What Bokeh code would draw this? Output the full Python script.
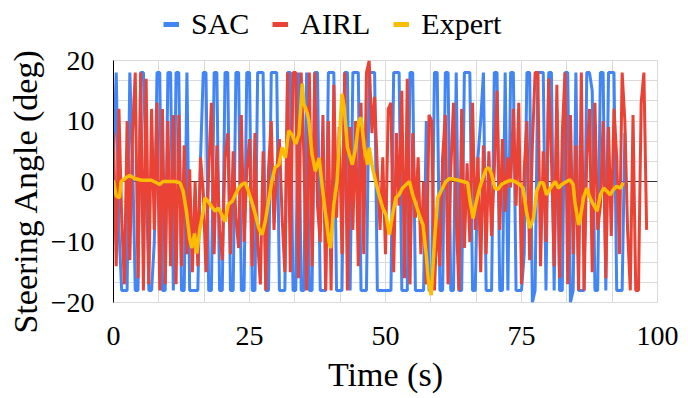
from bokeh.plotting import figure
from bokeh.layouts import column
from bokeh.models import Range1d, FixedTicker, Legend, LegendItem, Span, Title
from bokeh.embed import file_html
from bokeh.resources import INLINE

# ---- data ----
step = 0.5  # sampling interval (s) of SAC and AIRL series

sac_y = [
    4, 18, -8, -18, -18, -18, 18, 4, -18, -18,
    18, 18, 2, -18, -18, -10, 18, 18, -18, -18,
    18, 18, -18, 18, 18, -18, -18, 18, -18, -18,
    -18, -18, 4, 18, 18, -18, -18, 18, 18, -18,
    -18, 18, 18, -18, -18, 18, 18, -18, -18, 18,
    18, -18, -18, 18, 18, 18, -18, -18, 18, 18,
    18, -18, -18, -18, 18, 18, -18, -18, 18, -18,
    -18, 18, -18, -18, 18, 18, -18, -18, -18, 18,
    18, 18, -18, -18, -18, 18, 18, -18, 18, 18,
    18, -18, -18, -18, 18, 18, 18, -18, -18, -18,
    -18, -18, -18, 18, 18, 18, -18, -18, -18, 18,
    18, -18, -18, -18, -18, 10, -18, -18, 18, 18,
    -18, -18, 18, 18, -18, -18, 18, -18, -18, 18,
    18, 18, -18, -18, 4, 10, 18, -18, -18, -18,
    18, 18, -18, -18, 18, -18, 18, 18, -18, -18,
    -18, -12, 18, 18, -20, -18, 18, 18, 18, -18,
    18, 18, -18, 12, -18, -18, 18, 18, -20, -18,
    18, -18, -18, -18, 18, 18, 15, -18, -18, 18,
    18, -18, 18, 18, 18, -18, -18, -18, 8,
]

airl_y = [
    8, -14, 12, -6, -17, 10, -13, 8, 18, -16,
    18, -18, 17, -17, 12, -8, 13, -18, 12, -17,
    10, -14, 11, -17, 11, -14, 6, -12, 2, -15,
    0, -14, 4, -2, -15, 2, 13, -12, 6, -8,
    -13, 4, 8, -12, 5, -6, -11, 11, -10, 2,
    7, -14, 8, -10, -17, 5, -18, 2, 10, -8,
    2, 7, -6, -15, 18, -15, 18, 18, -16, 18,
    4, -18, 18, -14, 18, -4, -10, 11, -18, 10,
    -18, 16, -6, 9, -12, 18, -18, 9, -8, 10,
    -14, 13, -12, 18, 20, 8, 14, 2, -8, 4,
    -12, 12, 13, -15, 8, -4, 15, -16, 17, -17,
    8, -6, 4, -12, 0, -17, 11, 10, -18, -6,
    -14, 4, 11, -17, 2, 13, -6, -18, 12, -11,
    3, -10, 13, -8, 4, -15, 6, -12, 5, -9,
    2, 15, -8, 7, -5, 4, -1, 12, -4, 13,
    -17, 2, 10, -13, 6, 18, 18, -14, 5, -10,
    17, 4, -14, 16, -16, 8, 18, -17, 11, -12,
    6, -18, 18, -18, 4, 12, -15, 13, -8, -4,
    10, -16, 9, -9, 12, 4, -12, 18, 10, -8,
    -18, 11, -18, -18, 13, 18, -8,
]

expert_t = [
    0, 0.5, 1.1, 1.4, 2.4, 3.0, 3.9, 5.1, 7.0, 7.9, 8.5, 9.1, 11.3, 12.2, 12.8,
    13.4, 14.0, 14.4, 14.9, 15.3, 15.9, 16.5, 16.8, 17.4, 18.0, 18.7, 19.3,
    19.9, 20.5, 21.1, 21.8, 22.4, 23.0, 23.6, 24.2, 24.8, 25.4, 26.1, 26.7,
    27.3, 27.9, 28.5, 29.1, 29.7, 30.4, 31.0, 31.6, 32.2, 32.8, 33.5, 34.1,
    34.7, 35.0, 35.6, 35.9, 36.5, 37.1, 37.8, 38.4, 39.0, 39.6, 39.9, 40.5,
    41.1, 41.5, 42.0, 42.4, 43.0, 43.9, 44.5, 45.1, 45.5, 46.1, 46.7, 47.0,
    47.6, 48.2, 48.8, 49.5, 50.1, 50.7, 51.3, 51.9, 52.5, 53.1, 53.8, 54.4,
    55.0, 55.6, 56.2, 56.9, 57.5, 57.9, 58.4, 59.0, 59.6, 60.2, 61.1, 61.8,
    63.0, 64.2, 65.1, 65.5, 66.1, 66.7, 67.3, 67.9, 68.5, 69.0, 69.5, 70.1,
    70.7, 71.3, 71.9, 72.9, 73.8, 74.7, 75.3, 75.9, 76.5, 77.2, 77.8, 78.4,
    79.0, 79.6, 80.3, 81.2, 81.8, 82.4, 83.3, 83.9, 84.5, 84.8, 85.5, 85.8,
    86.4, 87.0, 87.6, 88.2, 88.9, 89.5, 90.1, 90.7, 91.3, 91.9, 92.5, 93.2,
    93.7,
]
expert_y = [
    0.2, -2.4, -2.7, 0, 0.7, 1.0, 0.5, 0.2, 0.2, -0.2, -0.5, 0, 0, -0.2, -1.6,
    -4.9, -9.4, -11, -8.6, -11.9, -7.7, -4.9, -2.7, -3.3, -4.1, -4.9, -4.4,
    -5.5, -6.6, -3.8, -3.3, -2.2, -1.1, -0.5, -0.2, -1.6, -3.3, -5.5, -7.7,
    -8.8, -6.6, -3.3, 0, 2.3, 2.8, 5.6, 3.9, 8.4, 7.8, 6.2, 7.8,
    16.2, 12.8, 11.4, 10, 4.5, 1.7, 3.9, -1.1, -5.5, -9.9, -11, -3.8,
    0, 6.7, 14.5, 12.3, 5.6, 2.8, 5.6, 10, 10.6, 5.6, 2.8, 5.6,
    2.3, 0, -2.2, -4.4, -5.5, -8.8, -5.5, -2.7, -2.2, -1.1, -0.5, 0,
    -2.2, -3.8, -5.5, -7.2, -12.2, -16.6, -18.8, -9.9, -2.7, -1.6, 0, 0.5,
    0.3, 0, -0.2, -3.0, -6.1, -3.3, -1.1, 0.6, 2.0, 2.3, 1.2, -1.1,
    -1.3, -0.5, -0.2, 0.2, 0, -0.5, -1.1, -4.9, -7.7, -6.1, -1.6, -0.2,
    -0.2, -2.2, -1.1, 0, -1.1, -0.5, 0, 0.3, -0.5, -3.3, -7.2, -6.1,
    -2.7, -1.1, -2.7, -3.8, -4.9, -2.2, -1.1, -1.6, -2.2, -1.3, -0.8, -1.1,
    -0.2,
]

series_names = ["SAC", "AIRL", "Expert"]
x_tick_labels = [0, 25, 50, 75, 100]
y_tick_labels = [-20, -10, 0, 10, 20]

sac_t = [i * step for i in range(len(sac_y))]
airl_t = [i * step for i in range(len(airl_y))]

# ---- style ----
SERIF = "Liberation Serif"
C_SAC, C_AIRL, C_EXP = "#4285F4", "#EA4335", "#FBBC04"
W = 680
LEG_H = 46
MAIN_H = 350

# ---- legend strip on top ----
lf = figure(width=W, height=LEG_H, output_backend="svg", toolbar_location=None,
            x_range=Range1d(0, 1), y_range=Range1d(0, 1),
            x_axis_location=None, y_axis_location=None, min_border=0)
lf.grid.visible = False
lf.outline_line_color = None
lg_sac = lf.line([5, 6], [5, 5], line_color=C_SAC, line_width=5)
lg_airl = lf.line([5, 6], [5, 5], line_color=C_AIRL, line_width=5)
lg_exp = lf.line([5, 6], [5, 5], line_color=C_EXP, line_width=5)
legend = Legend(items=[LegendItem(label=series_names[0], renderers=[lg_sac]),
                       LegendItem(label=series_names[1], renderers=[lg_airl]),
                       LegendItem(label=series_names[2], renderers=[lg_exp])],
                orientation="horizontal", location=(50, 5),
                label_text_font=SERIF, label_text_font_size="30px",
                label_text_color="black",
                glyph_width=16, glyph_height=20, label_standoff=12, spacing=23,
                padding=0, margin=0, border_line_color=None,
                background_fill_alpha=0)
lf.add_layout(legend)

# ---- main chart ----
p = figure(width=W, height=MAIN_H, output_backend="svg", toolbar_location=None,
           x_range=Range1d(0, 100), y_range=Range1d(-20, 20),
           min_border_left=113, min_border_right=W - 657,
           min_border_top=60 - LEG_H, min_border_bottom=MAIN_H - (302 - LEG_H))
p.background_fill_color = "white"
p.border_fill_color = "white"
p.outline_line_color = "#d9d9d9"

r_sac = p.line(sac_t, sac_y, line_color=C_SAC, line_width=3)
r_airl = p.line(airl_t, airl_y, line_color=C_AIRL, line_width=3)
r_exp = p.line(expert_t, expert_y, line_color=C_EXP, line_width=3.5)

zero = Span(location=0, dimension="width", line_color="#333333", line_width=1,
            level="underlay")
p.add_layout(zero)

# grids: 12 divisions each way
p.xgrid.ticker = FixedTicker(ticks=[100 * k / 12 for k in range(13)])
p.ygrid.ticker = FixedTicker(ticks=[-20 + 40 * k / 12 for k in range(13)])
for g in (p.xgrid, p.ygrid):
    g.grid_line_color = "#d9d9d9"
    g.grid_line_width = 1

p.xaxis.ticker = FixedTicker(ticks=x_tick_labels)
p.yaxis.ticker = FixedTicker(ticks=y_tick_labels)
for ax in (p.xaxis, p.yaxis):
    ax.major_tick_line_color = None
    ax.minor_tick_line_color = None
    ax.major_label_text_font = SERIF
    ax.major_label_text_font_size = "28px"
    ax.major_label_text_color = "black"
    ax.axis_label_text_font = SERIF
    ax.axis_label_text_font_size = "34px"
    ax.axis_label_text_font_style = "normal"
    ax.axis_label_text_color = "black"
p.xaxis.axis_line_color = None
p.yaxis.axis_line_color = "black"
p.xaxis.axis_label = "Time (s)"
p.xaxis.major_label_standoff = 18
p.yaxis.major_label_standoff = 13
p.xaxis.axis_label_standoff = 8

# vertical y-axis title, shifted slightly below the frame centre as in the reference
ytitle = Title(text="Steering Angle (deg)", align="left", offset=-31,
               text_font=SERIF, text_font_size="34px", text_font_style="normal",
               text_color="black", standoff=8)
p.add_layout(ytitle, "left")

layout = column(lf, p, spacing=0)
open("out.html", "w").write(file_html(layout, INLINE))
